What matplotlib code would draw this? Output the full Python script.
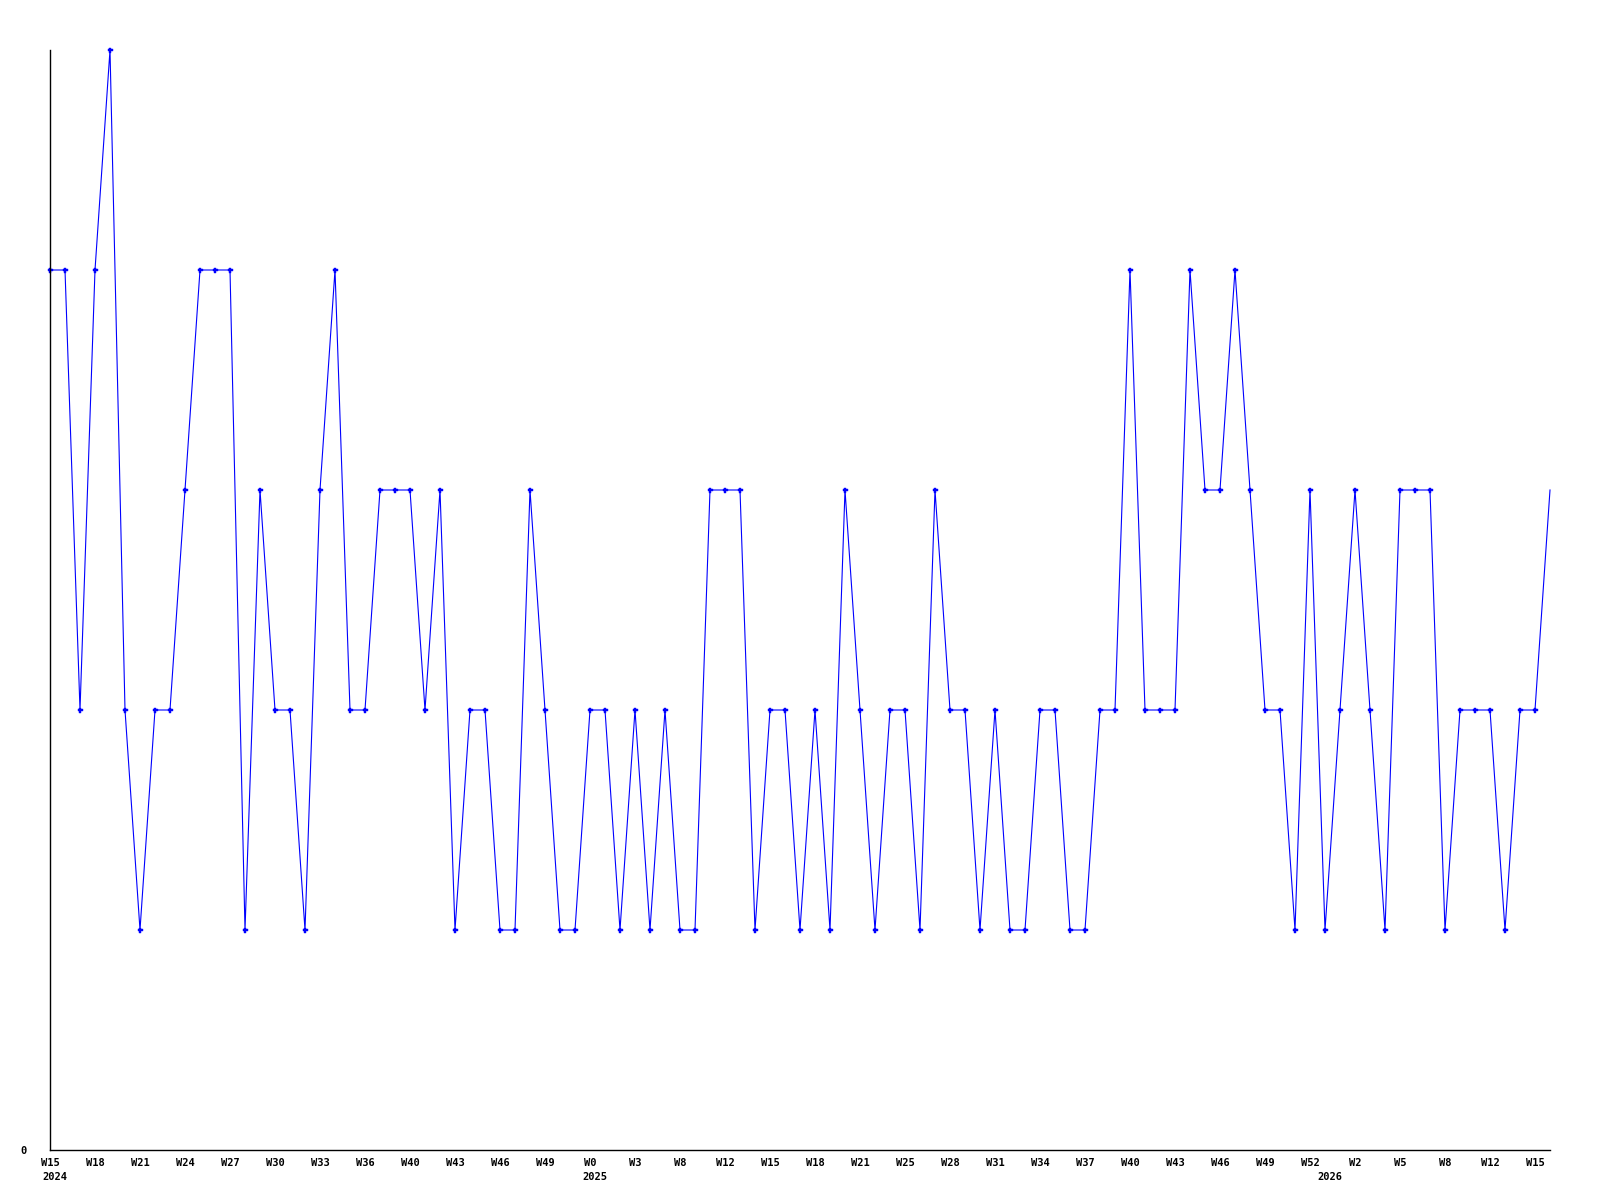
import matplotlib
matplotlib.use("Agg")
import matplotlib.pyplot as plt
import matplotlib.transforms as mtransforms

# weekly values, one per week (index 0 = W15 2024)
values = [4, 4, 2, 4, 5, 2, 1, 2, 2, 3,
          4, 4, 4, 1, 3, 2, 2, 1, 3, 4,
          2, 2, 3, 3, 3, 2, 3, 1, 2, 2,
          1, 1, 3, 2, 1, 1, 2, 2, 1, 2,
          1, 2, 1, 1, 3, 3, 3, 1, 2, 2,
          1, 2, 1, 3, 2, 1, 2, 2, 1, 3,
          2, 2, 1, 2, 1, 1, 2, 2, 1, 1,
          2, 2, 4, 2, 2, 2, 4, 3, 3, 4,
          3, 2, 2, 1, 3, 1, 2, 3, 2, 1,
          3, 3, 3, 1, 2, 2, 2, 1, 2, 2,
          3]

# week tick labels, one every 3rd point
week_labels = ["W15", "W18", "W21", "W24", "W27", "W30", "W33", "W36", "W40",
               "W43", "W46", "W49", "W0", "W3", "W8", "W12", "W15", "W18",
               "W21", "W25", "W28", "W31", "W34", "W37", "W40", "W43", "W46",
               "W49", "W52", "W2", "W5", "W8", "W12", "W15"]

# year labels and the week index where each year starts
years = ["2024", "2025", "2026"]
year_starts = [0, 36, 85]


def make_chart():
    fig = plt.figure(figsize=(16, 12), dpi=100)
    ax = fig.add_axes([50 / 1600, 50 / 1200, 1500 / 1600, 1100 / 1200])

    x = list(range(len(values)))
    # the current (last) week has no marker in the original
    ax.plot(x, values, color="#0000ff", linewidth=0.8,
            marker="P", markersize=3.6, markerfacecolor="#0000ff",
            markeredgecolor="#0000ff", markeredgewidth=0.3,
            markevery=list(range(len(values) - 1)), clip_on=False)

    ax.set_xlim(0, len(values) - 1)
    ax.set_ylim(0, max(values))

    # only the bottom and left axis lines
    ax.spines["top"].set_visible(False)
    ax.spines["right"].set_visible(False)
    for side in ["left", "bottom"]:
        ax.spines[side].set_color("black")
        ax.spines[side].set_linewidth(1.0)

    font = dict(family="DejaVu Sans Mono", weight="bold", size=7.5)

    ax.set_xticks(range(0, len(values), 3))
    ax.set_xticklabels(week_labels, **font)
    ax.set_yticks([0])
    ax.set_yticklabels(["0"], **font)
    ax.tick_params(axis="x", length=0, pad=6)
    ax.tick_params(axis="y", length=0, pad=17)

    # year labels under the week labels
    trans = mtransforms.blended_transform_factory(ax.transData, fig.transFigure)
    for year, start in zip(years, year_starts):
        ax.text(start + 0.35, 23 / 1200, year, transform=trans,
                ha="center", va="center", **font)

    fig.savefig("out.png", dpi=100, facecolor="white")


if __name__ == "__main__":
    make_chart()
